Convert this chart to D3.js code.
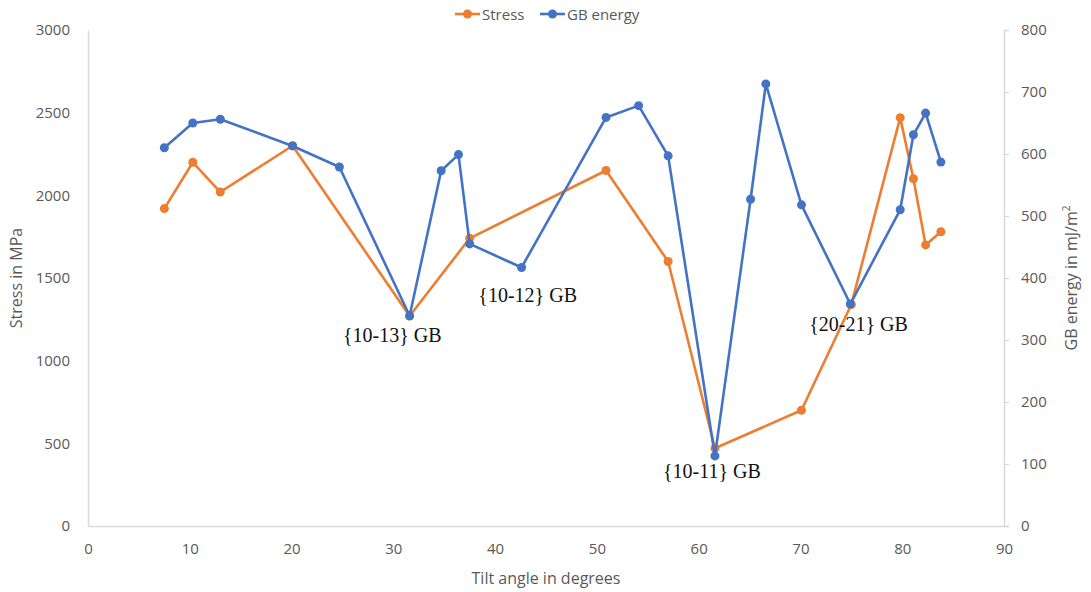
<!DOCTYPE html>
<html>
<head>
<meta charset="utf-8">
<script src="https://cdn.jsdelivr.net/npm/d3@7"></script>
<style>
  body { margin: 0; background: #fff; }
  text { font-family: "Open Sans", "Liberation Sans", sans-serif; }
</style>
</head>
<body>
<div id="chart"></div>
<script>
// Stress series (tilt angle in degrees, stress in MPa)
const stressAngles = [7.5, 10.3, 13.0, 20.1, 31.6, 37.5, 50.9, 57.0, 61.6, 70.1, 75.0, 79.8, 81.1, 82.3, 83.8];
const stressValues = [1920, 2200, 2020, 2300, 1270, 1740, 2150, 1600, 470, 700, 1340, 2470, 2100, 1700, 1780];

// GB energy series (tilt angle in degrees, energy in mJ/m2)
const energyAngles = [7.5, 10.3, 13.0, 20.1, 24.7, 31.6, 34.7, 36.4, 37.5, 42.6, 50.9, 54.1, 57.0, 61.6, 65.1, 66.6, 70.1, 74.9, 79.8, 81.1, 82.3, 83.8];
const energyValues = [610, 650, 656, 613, 579, 339, 573, 599, 455, 417, 659, 678, 597, 113, 527, 713, 518, 358, 510, 631, 666, 587];

// annotations
const gbLabels = ["{10-13} GB", "{10-12} GB", "{10-11} GB", "{20-21} GB"];
const gbLabelAngles = [29.9, 43.2, 61.3, 75.7];
const gbLabelEnergies = [296, 362, 77, 314];

const xTicks = [0, 10, 20, 30, 40, 50, 60, 70, 80, 90];
const leftTicks = [0, 500, 1000, 1500, 2000, 2500, 3000];
const rightTicks = [0, 100, 200, 300, 400, 500, 600, 700, 800];

const W = 1091, H = 592;
const margin = {top: 30, right: 87, bottom: 66, left: 88};
const orange = "#ED7D31", blue = "#4472C4";
const axisColor = "#d9d9d9", labelColor = "#595959";

const svg = d3.select("#chart").append("svg")
  .attr("width", W)
  .attr("height", H);

const x = d3.scaleLinear().domain([0, 90]).range([margin.left, W - margin.right]);
const yL = d3.scaleLinear().domain([0, 3000]).range([H - margin.bottom, margin.top]);
const yR = d3.scaleLinear().domain([0, 800]).range([H - margin.bottom, margin.top]);

// Axes
const gx = svg.append("g")
  .attr("transform", `translate(0,${H - margin.bottom})`)
  .call(d3.axisBottom(x).tickValues(xTicks).tickSize(0).tickPadding(17));

const gl = svg.append("g")
  .attr("transform", `translate(${margin.left},0)`)
  .call(d3.axisLeft(yL).tickValues(leftTicks).tickFormat(d3.format("d")).tickSize(0).tickPadding(18));

const gr = svg.append("g")
  .attr("transform", `translate(${W - margin.right},0)`)
  .call(d3.axisRight(yR).tickValues(rightTicks).tickFormat(d3.format("d")).tickSize(5).tickPadding(12));

[gx, gl, gr].forEach(g => {
  g.select(".domain").attr("stroke", axisColor).attr("stroke-width", 1.5);
  g.selectAll(".tick line").attr("stroke", axisColor).attr("stroke-width", 1.2);
  g.selectAll(".tick text")
    .attr("fill", labelColor)
    .attr("font-size", "15px")
    .attr("font-family", "'Open Sans', sans-serif");
});

// Lines
const stressData = stressAngles.map((a, i) => ({a: a, v: stressValues[i]}));
const energyData = energyAngles.map((a, i) => ({a: a, v: energyValues[i]}));

svg.append("path")
  .datum(stressData)
  .attr("fill", "none")
  .attr("stroke", orange)
  .attr("stroke-width", 2.6)
  .attr("stroke-linejoin", "round")
  .attr("d", d3.line().x(d => x(d.a)).y(d => yL(d.v)));

svg.selectAll(".stress-dot")
  .data(stressData)
  .enter()
  .append("circle")
  .attr("class", "stress-dot")
  .attr("cx", d => x(d.a))
  .attr("cy", d => yL(d.v))
  .attr("r", 4.5)
  .attr("fill", orange);

svg.append("path")
  .datum(energyData)
  .attr("fill", "none")
  .attr("stroke", blue)
  .attr("stroke-width", 2.6)
  .attr("stroke-linejoin", "round")
  .attr("d", d3.line().x(d => x(d.a)).y(d => yR(d.v)));

svg.selectAll(".energy-dot")
  .data(energyData)
  .enter()
  .append("circle")
  .attr("class", "energy-dot")
  .attr("cx", d => x(d.a))
  .attr("cy", d => yR(d.v))
  .attr("r", 4.5)
  .attr("fill", blue);

// GB annotations
svg.selectAll(".gb-label")
  .data(gbLabels)
  .enter()
  .append("text")
  .attr("class", "gb-label")
  .attr("x", (d, i) => x(gbLabelAngles[i]))
  .attr("y", (d, i) => yR(gbLabelEnergies[i]))
  .attr("text-anchor", "middle")
  .style("font-family", "'Liberation Serif', 'DejaVu Serif', serif")
  .attr("font-size", "20px")
  .attr("fill", "#111")
  .text(d => d);

// Axis titles
svg.append("text")
  .attr("x", (margin.left + W - margin.right) / 2)
  .attr("y", 584)
  .attr("text-anchor", "middle")
  .attr("font-size", "16px")
  .attr("fill", labelColor)
  .text("Tilt angle in degrees");

svg.append("text")
  .attr("transform", `translate(22,${(margin.top + H - margin.bottom) / 2}) rotate(-90)`)
  .attr("text-anchor", "middle")
  .attr("font-size", "16px")
  .attr("fill", labelColor)
  .text("Stress in MPa");

const rt = svg.append("text")
  .attr("transform", `translate(1077,${(margin.top + H - margin.bottom) / 2}) rotate(-90)`)
  .attr("text-anchor", "middle")
  .attr("font-size", "16px")
  .attr("fill", labelColor);
rt.append("tspan").text("GB energy in mJ/m");
rt.append("tspan").attr("font-size", "10px").attr("dy", -7).text("2");

// Legend
const legendItems = [
  {name: "Stress", color: orange, x: 455},
  {name: "GB energy", color: blue, x: 540}
];
const lg = svg.selectAll(".legend")
  .data(legendItems)
  .enter()
  .append("g")
  .attr("class", "legend")
  .attr("transform", d => `translate(${d.x},14)`);

lg.append("line")
  .attr("x1", 0).attr("x2", 25)
  .attr("stroke", d => d.color)
  .attr("stroke-width", 2.6);
lg.append("circle")
  .attr("cx", 12.5)
  .attr("r", 4.5)
  .attr("fill", d => d.color);
lg.append("text")
  .attr("x", 27)
  .attr("y", 5.5)
  .attr("font-size", "15px")
  .attr("fill", labelColor)
  .text(d => d.name);
</script>
</body>
</html>
